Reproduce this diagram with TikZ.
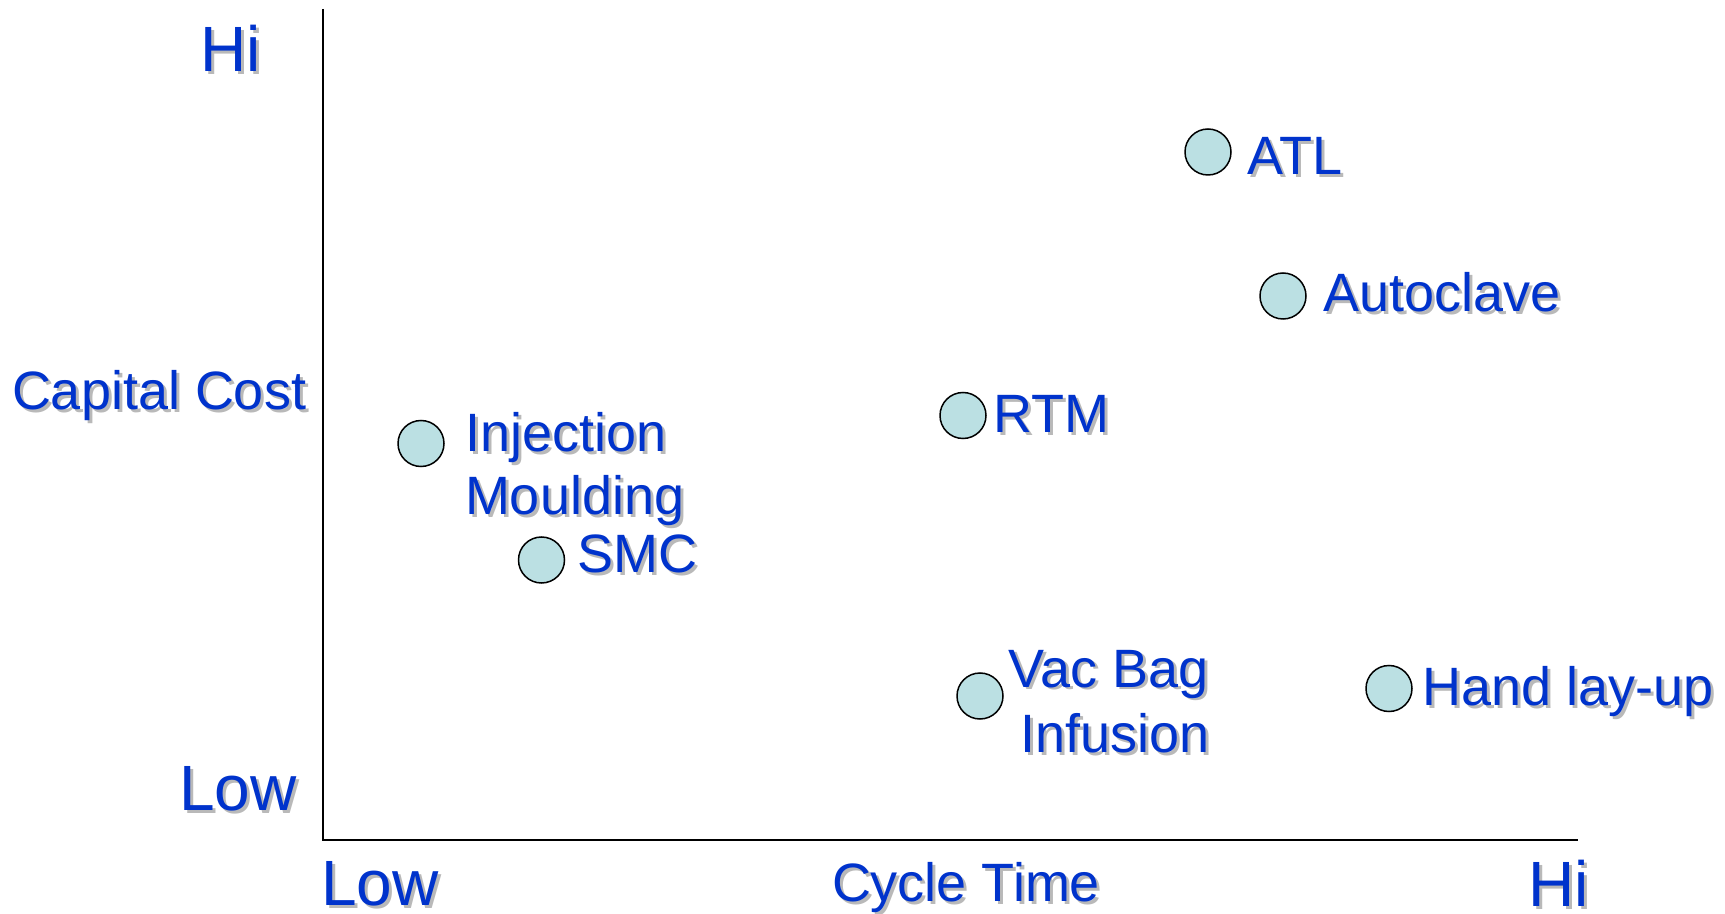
\documentclass[tikz,border=0pt]{standalone}
\usepackage{fontspec}
\setmainfont{Liberation Sans}
\definecolor{txtblue}{RGB}{0,51,204}
\definecolor{shgray}{RGB}{185,185,185}
\definecolor{dotfill}{RGB}{187,224,227}
\newcommand\shd[1]{\rlap{\kern1.5pt\raisebox{-1.5pt}{\textcolor{shgray}{#1}}}\textcolor{txtblue}{#1}}
\tikzset{
  lbl/.style={anchor=base west, inner sep=0pt, outer sep=0pt, font=\fontsize{27}{30}\selectfont},
  big/.style={anchor=base west, inner sep=0pt, outer sep=0pt, font=\fontsize{32}{36}\selectfont},
  dot/.style={circle, draw=black, fill=dotfill, line width=0.75pt, minimum size=23pt, inner sep=0pt},
  axis/.style={line width=1pt, black}
}
\begin{document}
\begin{tikzpicture}[x=0.5pt,y=-0.5pt]
\useasboundingbox (0,0) rectangle (1725,914);
% axes
\coordinate (top) at (322.5,9);
\coordinate (origin) at (322.5,839.5);
\coordinate (right) at (1578,839.5);
\draw[axis] (top) -- (origin) -- (right);
% axis labels
\node[big] (yhi) at (200,72) {\shd{Hi}};
\node[big] (ylow) at (179,810) {\shd{Low}};
\node[lbl] (ylab) at (12,410) {\shd{Capital Cost}};
\node[big] (xlow) at (321,905) {\shd{Low}};
\node[big] (xhi) at (1528,906) {\shd{Hi}};
\node[lbl] (xlab) at (832,901) {\shd{Cycle Time}};
% points
\node[dot] (atl) at (1208,152) {};
\node[lbl] (atlt) at (1247,175) {\shd{ATL}};
\node[dot] (auto) at (1283,296) {};
\node[lbl] (autot) at (1323,312) {\shd{Autoclave}};
\node[dot] (rtm) at (963,415.5) {};
\node[lbl] (rtmt) at (993,433) {\shd{RTM}};
\node[dot] (inj) at (421,443.5) {};
\node[lbl] (injt1) at (465.5,452) {\shd{Injection}};
\node[lbl] (injt2) at (465,515) {\shd{Moulding}};
\node[dot] (smc) at (541.5,560) {};
\node[lbl] (smct) at (577,573) {\shd{SMC}};
\node[dot] (vac) at (980,696) {};
\node[lbl, anchor=base east] (vact1) at (1209,687) {\shd{Vac Bag}};
\node[lbl, anchor=base east] (vact2) at (1210,752) {\shd{Infusion}};
\node[dot] (hand) at (1389,688.5) {};
\node[lbl] (handt) at (1422,705) {\shd{Hand lay-up}};
\end{tikzpicture}
\end{document}
